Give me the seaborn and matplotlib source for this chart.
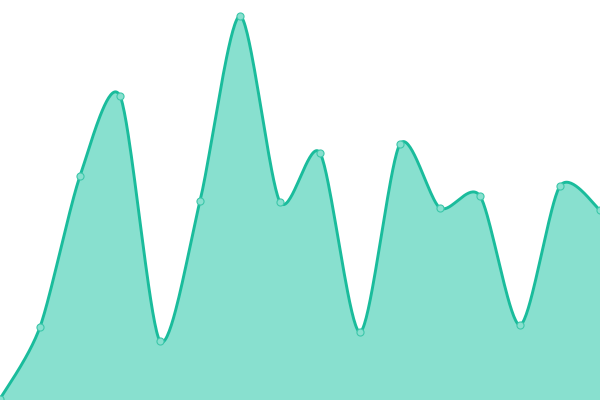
import numpy as np
import pandas as pd
import matplotlib
matplotlib.use("Agg")
import matplotlib.pyplot as plt
import seaborn as sns

# data (value = height above the bottom edge)
x_pos = [0, 40, 80, 120, 160, 200, 240, 280, 320, 360, 400, 440, 480, 520, 560, 600]
values = [1, 73, 224, 304, 59, 199, 384, 198, 247, 68, 256, 192, 204, 75, 214, 190]

line_color = "#1abc9c"
fill_color = "#88e0cf"


def cardinal(xs, ys, tension=0.4, steps=40):
    # smooth curve through the points (cardinal spline)
    xs = np.asarray(xs, float)
    ys = np.asarray(ys, float)
    px = np.concatenate([[xs[0]], xs, [xs[-1]]])
    py = np.concatenate([[ys[0]], ys, [ys[-1]]])
    out_x, out_y = [], []
    for i in range(1, len(px) - 2):
        t = np.linspace(0, 1, steps, endpoint=False)
        for p, out in ((px, out_x), (py, out_y)):
            p0, p1, p2, p3 = p[i - 1], p[i], p[i + 1], p[i + 2]
            m1 = (p2 - p0) * tension
            m2 = (p3 - p1) * tension
            h00 = 2 * t**3 - 3 * t**2 + 1
            h10 = t**3 - 2 * t**2 + t
            h01 = -2 * t**3 + 3 * t**2
            h11 = t**3 - t**2
            out.extend(h00 * p1 + h10 * m1 + h01 * p2 + h11 * m2)
    out_x.append(xs[-1])
    out_y.append(ys[-1])
    return np.array(out_x), np.array(out_y)


sx, sy = cardinal(x_pos, values)
curve = pd.DataFrame({"x": sx, "y": sy})
pts = pd.DataFrame({"x": x_pos, "y": values})

sns.set_style("white")
fig = plt.figure(figsize=(6, 4), dpi=100)
ax = fig.add_axes([0, 0, 1, 1])

ax.fill_between(curve["x"], 0, curve["y"], color=fill_color, linewidth=0)
sns.lineplot(data=curve, x="x", y="y", ax=ax, color=line_color, linewidth=2.1,
             sort=False, estimator=None)
sns.scatterplot(data=pts, x="x", y="y", ax=ax, s=26, color=fill_color,
                edgecolor="#3cc7aa", linewidth=0.8, zorder=5, clip_on=False)

ax.set_xlim(0, 600)
ax.set_ylim(0, 400)
ax.axis("off")

fig.savefig("out.png", dpi=100)
